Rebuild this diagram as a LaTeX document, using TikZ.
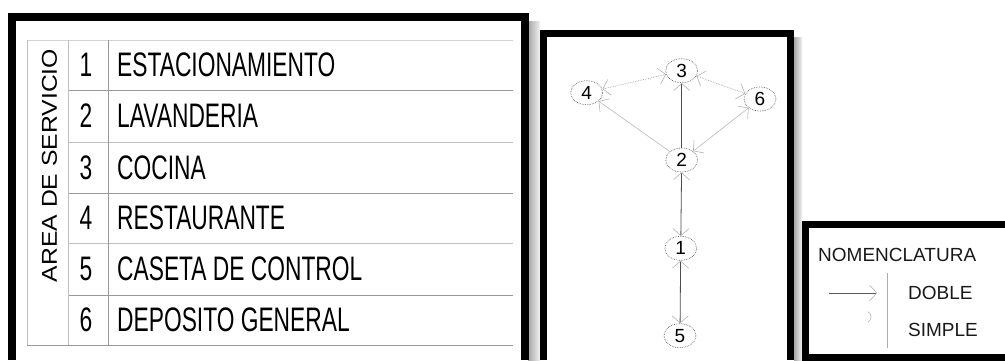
\documentclass[tikz,border=0pt]{standalone}
\usepackage{fontspec}
\setmainfont{Liberation Sans}
\newfontfamily\rowfont[FakeStretch=0.67]{Liberation Sans}
\newfontfamily\sidefont[FakeStretch=1.15]{Liberation Sans}
\usetikzlibrary{arrows.meta,shapes.geometric}

\begin{document}
\begin{tikzpicture}[
  x=1pt, y=-1pt,
  frm/.style={line width=#1, draw=black, line join=miter},
  frm/.default=8pt,
  tline/.style={draw=gray!#1, line width=1pt},
  tline/.default=50,
  num/.style={font=\rowfont\fontsize{34}{36}\selectfont, text=black, inner sep=0pt},
  itm/.style={font=\rowfont\fontsize{34}{36}\selectfont, text=black, anchor=west, inner sep=0pt},
  area/.style={ellipse, draw=black!60, densely dotted, line width=0.7pt,
    minimum width=32pt, minimum height=24pt, inner sep=0pt,
    font=\fontsize{19}{20}\selectfont},
  barb/.tip={Straight Barb[length=7pt, width=16pt, color=gray!60, line width=0.6pt]},
  dbl/.style={{barb}-{barb}, draw=black!70, line width=0.8pt},
  smp/.style={{barb}-{barb}, draw=gray!55, line width=0.6pt},
  dot/.style={{barb}-{barb}, draw=gray!70, line width=0.7pt, densely dotted},
  leg/.style={font=\fontsize{19}{20}\selectfont, text=black!90, inner sep=0pt},
]
\useasboundingbox (0,0) rectangle (1005,360);
% shadows of the frames
\shade[left color=gray!70, right color=gray!10] (528,21) rectangle (540,360);
\shade[left color=gray!70, right color=gray!10] (794,37) rectangle (802,360);
% frames
\draw[frm] (12,360) -- (12,17) -- (524.5,17) -- (524.5,360);
\draw[frm=7pt] (543.5,360) -- (543.5,33.5) -- (790.5,33.5) -- (790.5,360);
\draw[frm=7pt] (1010,224.5) -- (805,224.5) -- (805,357) -- (1010,357);
% table
\draw[tline=35] (27,40) -- (513,40);
\draw[tline=80] (68,90) -- (513,90);
\draw[tline] (68,142) -- (513,142);
\draw[tline=80] (68,193) -- (513,193);
\draw[tline] (68,243) -- (513,243);
\draw[tline=80] (68,295) -- (513,295);
\draw[tline=80] (27,345) -- (513,345);
\draw[tline] (27,40) -- (27,345);
\draw[tline] (68,40) -- (68,345);
\draw[tline=80] (108,40) -- (108,345);
\node[rotate=90, font=\sidefont\fontsize{21.5}{24}\selectfont, text=black, inner sep=0pt] (side) at (49.5,165.5) {AREA DE SERVICIO};
\node[num] (n1) at (86,65) {1};
\node[num] (n2) at (86,116) {2};
\node[num] (n3) at (86,167.5) {3};
\node[num] (n4) at (86,218) {4};
\node[num] (n5) at (86,269) {5};
\node[num] (n6) at (86,320) {6};
\node[itm] (t1) at (117,65) {ESTACIONAMIENTO};
\node[itm] (t2) at (117,116) {LAVANDERIA};
\node[itm] (t3) at (117,167.5) {COCINA};
\node[itm] (t4) at (117,218) {RESTAURANTE};
\node[itm] (t5) at (117,269) {CASETA DE CONTROL};
\node[itm] (t6) at (117,320) {DEPOSITO GENERAL};
% graph
\node[area] (coc) at (681.7,70.7) {3};
\node[area] (res) at (586.7,92.7) {4};
\node[area] (dep) at (760,99) {6};
\node[area] (lav) at (681.7,160) {2};
\node[area] (est) at (680.7,248.3) {1};
\node[area] (cas) at (680,335.7) {5};
\draw[dbl, {barb}-] (coc) -- (lav);
\draw[dbl] (lav) -- (est);
\draw[dbl] (est) -- (cas);
\draw[dot] (coc) -- (res);
\draw[dot] (coc) -- (dep);
\draw[smp, {barb}-] (res) -- (lav);
\draw[smp] (dep) -- (lav);
% nomenclature
\node[leg, anchor=west] (nom) at (818,255) {NOMENCLATURA};
\node[leg, anchor=west] (dob) at (908,293) {DOBLE};
\node[leg, anchor=west] (sim) at (908,330) {SIMPLE};
\coordinate (d0) at (829,293);
\coordinate (d1) at (877,293);
\coordinate (s0) at (868,322);
\coordinate (v0) at (887,273);
\coordinate (v1) at (887,348);
\draw[-{barb}, draw=black!65, line width=0.7pt] (d0) -- (d1);
\draw[gray!55, line width=0.7pt] (s0) arc[start angle=60, end angle=-60, radius=6];
\draw[gray!65, line width=0.8pt] (v0) -- (v1);
\end{tikzpicture}
\end{document}
